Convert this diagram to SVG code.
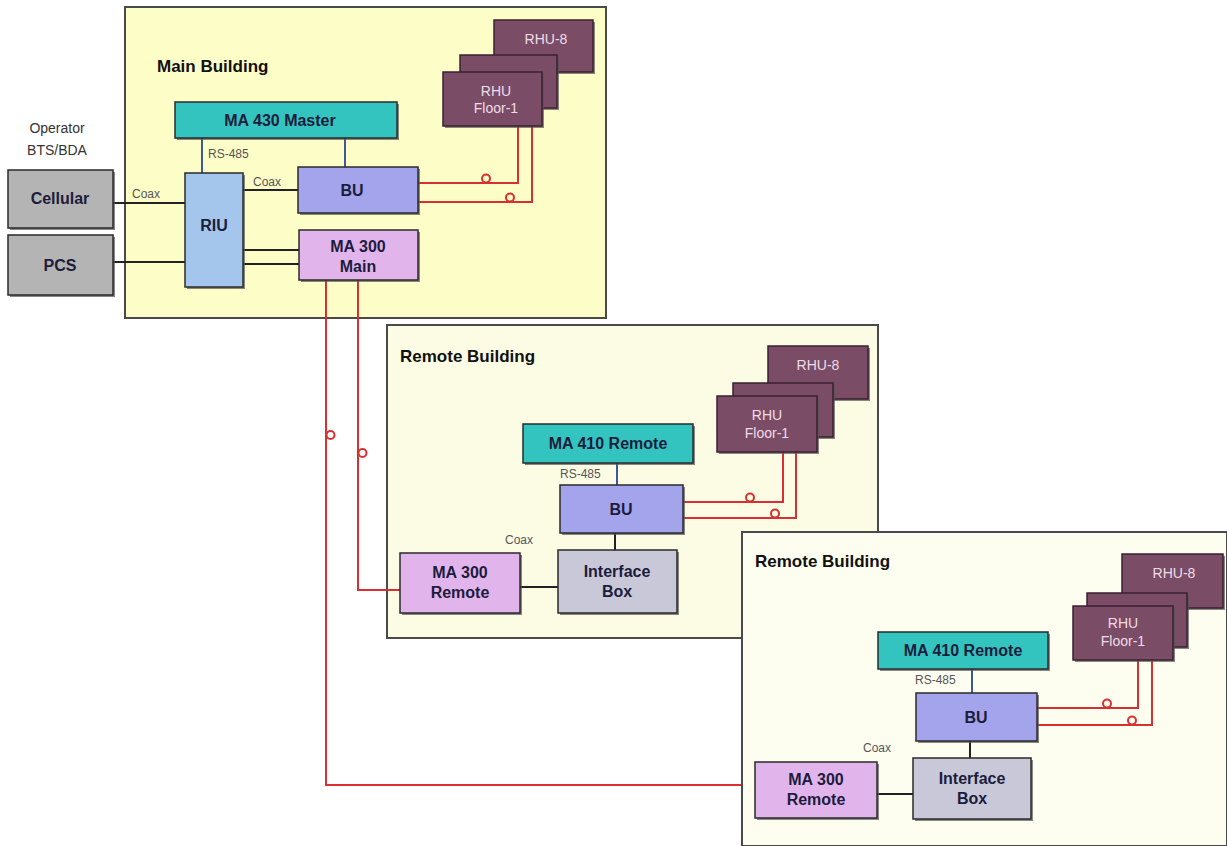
<svg xmlns="http://www.w3.org/2000/svg" width="1227" height="846" viewBox="0 0 1227 846">
<style>
text{font-family:"Liberation Sans",Arial,sans-serif}
.bld{stroke:#4a4a4a;stroke-width:2}
.ttl{font-size:17px;font-weight:bold;fill:#111}
.box{stroke:#2a2a2a;stroke-width:1.5}
.sh{fill:#555;opacity:.7}
.lbl{font-size:16px;font-weight:bold;fill:#1c1c3c;text-anchor:middle}
.rhu{fill:#7b4c66;stroke:#3a2030;stroke-width:1.5}
.rtx{font-size:14px;fill:#f0dce8;text-anchor:middle}
.sm{font-size:12px;fill:#555}
.blk{stroke:#222;stroke-width:2;fill:none}
.blu{stroke:#3a5a9a;stroke-width:2;fill:none}
.red{stroke:#d83030;stroke-width:2;fill:none}
.loop{stroke:#d83030;stroke-width:2;fill:none}
.gray{fill:#b4b4b4}.teal{fill:#33c4c0}.lblue{fill:#a4c6ec}.lav{fill:#a4a4ec}.pink{fill:#e2b4ec}.ib{fill:#c8c8d8}
</style>

<g id="main-building">
<rect x="125" y="7" width="481" height="311" fill="#fdfdc8" class="bld"/>
<text x="157" y="72" class="ttl">Main Building</text>
</g>
<g id="remote-building-1">
<rect x="387" y="325" width="491" height="313" fill="#fcfce4" class="bld"/>
<text x="400" y="362" class="ttl">Remote Building</text>
</g>

<g id="operator-label">
<text x="57" y="133" font-size="14" fill="#333" text-anchor="middle">Operator</text>
<text x="57" y="155" font-size="14" fill="#333" text-anchor="middle">BTS/BDA</text>
</g>

<g id="connectors">
<line x1="113" y1="203" x2="185" y2="203" class="blk"/>
<line x1="113" y1="262" x2="185" y2="262" class="blk"/>
<line x1="243" y1="190" x2="298" y2="190" class="blk"/>
<line x1="243" y1="250" x2="299" y2="250" class="blk"/>
<line x1="243" y1="264" x2="299" y2="264" class="blk"/>
<line x1="202" y1="138" x2="202" y2="173" class="blu"/>
<line x1="345" y1="138" x2="345" y2="167" class="blu"/>
<path d="M418 183 H518 V126" class="red"/>
<path d="M418 202 H532 V126" class="red"/>
<circle cx="486" cy="178.5" r="4" class="loop"/>
<circle cx="510" cy="197.5" r="4" class="loop"/>
<path d="M326 280 V785 H755" class="red"/>
<path d="M358 280 V590 H400" class="red"/>
<circle cx="330.5" cy="435" r="4" class="loop"/>
<circle cx="362.5" cy="453" r="4" class="loop"/>
</g>

<g id="remote-building-2">
<rect x="742" y="532" width="485" height="314" fill="#fefef0" class="bld"/>
<text x="755" y="567" class="ttl">Remote Building</text>
</g>

<g id="connectors-remote">
<line x1="617" y1="463" x2="617" y2="486" class="blu"/>
<line x1="615" y1="533" x2="615" y2="551" class="blk"/>
<line x1="520" y1="587" x2="558" y2="587" class="blk"/>
<path d="M683 502 H783 V452" class="red"/>
<path d="M683 518 H796 V452" class="red"/>
<circle cx="750" cy="497.5" r="4" class="loop"/>
<circle cx="775" cy="513.5" r="4" class="loop"/>
<line x1="972" y1="669" x2="972" y2="693" class="blu"/>
<line x1="970" y1="741" x2="970" y2="758" class="blk"/>
<line x1="877" y1="794" x2="913" y2="794" class="blk"/>
<path d="M1037 708 H1138 V660" class="red"/>
<path d="M1037 725 H1152 V660" class="red"/>
<circle cx="1107" cy="703.5" r="4" class="loop"/>
<circle cx="1132" cy="720.5" r="4" class="loop"/>
</g>

<g id="cellular">
<rect x="10" y="172" width="105" height="58" class="sh"/>
<rect x="8" y="170" width="105" height="58" class="box gray"/>
<text x="60" y="204" class="lbl">Cellular</text>
</g>
<g id="pcs">
<rect x="10" y="237" width="105" height="60" class="sh"/>
<rect x="8" y="235" width="105" height="60" class="box gray"/>
<text x="60" y="271" class="lbl">PCS</text>
</g>
<g id="ma430">
<rect x="177" y="104" width="222" height="36" class="sh"/>
<rect x="175" y="102" width="222" height="36" class="box teal"/>
<text x="280" y="126" class="lbl">MA 430 Master</text>
</g>
<g id="riu">
<rect x="187" y="175" width="58" height="114" class="sh"/>
<rect x="185" y="173" width="58" height="114" class="box lblue"/>
<text x="214" y="231" class="lbl">RIU</text>
</g>
<g id="bu-main">
<rect x="300" y="169" width="120" height="46" class="sh"/>
<rect x="298" y="167" width="120" height="46" class="box lav"/>
<text x="352" y="196" class="lbl">BU</text>
</g>
<g id="ma300-main">
<rect x="301" y="232" width="119" height="50" class="sh"/>
<rect x="299" y="230" width="119" height="50" class="box pink"/>
<text x="358" y="252" class="lbl">MA 300</text>
<text x="358" y="272" class="lbl">Main</text>
</g>
<g id="rhu-main">
<rect x="496" y="22" width="99" height="52" class="sh"/>
<rect x="494" y="20" width="99" height="52" class="rhu"/>
<text x="546" y="44" class="rtx">RHU-8</text>
<rect x="462" y="57" width="97" height="53" class="sh"/>
<rect x="460" y="55" width="97" height="53" class="rhu"/>
<rect x="445" y="74" width="99" height="54" class="sh"/>
<rect x="443" y="72" width="99" height="54" class="rhu"/>
<text x="496" y="96" class="rtx">RHU</text>
<text x="496" y="113" class="rtx">Floor-1</text>
</g>
<g id="main-labels">
<text x="208" y="158" class="sm">RS-485</text>
<text x="132" y="198" class="sm">Coax</text>
<text x="253" y="186" class="sm">Coax</text>
</g>

<g id="rhu-r1">
<rect x="770" y="348" width="100" height="53" class="sh"/>
<rect x="768" y="346" width="100" height="53" class="rhu"/>
<text x="818" y="370" class="rtx">RHU-8</text>
<rect x="735" y="385" width="100" height="54" class="sh"/>
<rect x="733" y="383" width="100" height="54" class="rhu"/>
<rect x="719" y="398" width="100" height="56" class="sh"/>
<rect x="717" y="396" width="100" height="56" class="rhu"/>
<text x="767" y="420" class="rtx">RHU</text>
<text x="767" y="438" class="rtx">Floor-1</text>
</g>
<g id="ma410-r1">
<rect x="525" y="426" width="170" height="39" class="sh"/>
<rect x="523" y="424" width="170" height="39" class="box teal"/>
<text x="608" y="449" class="lbl">MA 410 Remote</text>
</g>
<g id="bu-r1">
<rect x="562" y="487" width="123" height="48" class="sh"/>
<rect x="560" y="485" width="123" height="48" class="box lav"/>
<text x="621" y="515" class="lbl">BU</text>
</g>
<g id="ib-r1">
<rect x="560" y="552" width="119" height="63" class="sh"/>
<rect x="558" y="550" width="119" height="63" class="box ib"/>
<text x="617" y="577" class="lbl">Interface</text>
<text x="617" y="597" class="lbl">Box</text>
</g>
<g id="ma300-r1">
<rect x="402" y="555" width="120" height="60" class="sh"/>
<rect x="400" y="553" width="120" height="60" class="box pink"/>
<text x="460" y="578" class="lbl">MA 300</text>
<text x="460" y="598" class="lbl">Remote</text>
</g>
<g id="r1-labels">
<text x="560" y="478" class="sm">RS-485</text>
<text x="505" y="544" class="sm">Coax</text>
</g>

<g id="rhu-r2">
<rect x="1124" y="556" width="101" height="54" class="sh"/>
<rect x="1122" y="554" width="101" height="54" class="rhu"/>
<text x="1174" y="578" class="rtx">RHU-8</text>
<rect x="1089" y="595" width="100" height="54" class="sh"/>
<rect x="1087" y="593" width="100" height="54" class="rhu"/>
<rect x="1075" y="608" width="100" height="54" class="sh"/>
<rect x="1073" y="606" width="100" height="54" class="rhu"/>
<text x="1123" y="628" class="rtx">RHU</text>
<text x="1123" y="646" class="rtx">Floor-1</text>
</g>
<g id="ma410-r2">
<rect x="880" y="634" width="170" height="37" class="sh"/>
<rect x="878" y="632" width="170" height="37" class="box teal"/>
<text x="963" y="656" class="lbl">MA 410 Remote</text>
</g>
<g id="bu-r2">
<rect x="918" y="695" width="121" height="48" class="sh"/>
<rect x="916" y="693" width="121" height="48" class="box lav"/>
<text x="976" y="723" class="lbl">BU</text>
</g>
<g id="ib-r2">
<rect x="915" y="760" width="118" height="61" class="sh"/>
<rect x="913" y="758" width="118" height="61" class="box ib"/>
<text x="972" y="784" class="lbl">Interface</text>
<text x="972" y="804" class="lbl">Box</text>
</g>
<g id="ma300-r2">
<rect x="757" y="764" width="122" height="56" class="sh"/>
<rect x="755" y="762" width="122" height="56" class="box pink"/>
<text x="816" y="785" class="lbl">MA 300</text>
<text x="816" y="805" class="lbl">Remote</text>
</g>
<g id="r2-labels">
<text x="915" y="684" class="sm">RS-485</text>
<text x="863" y="752" class="sm">Coax</text>
</g>
</svg>
